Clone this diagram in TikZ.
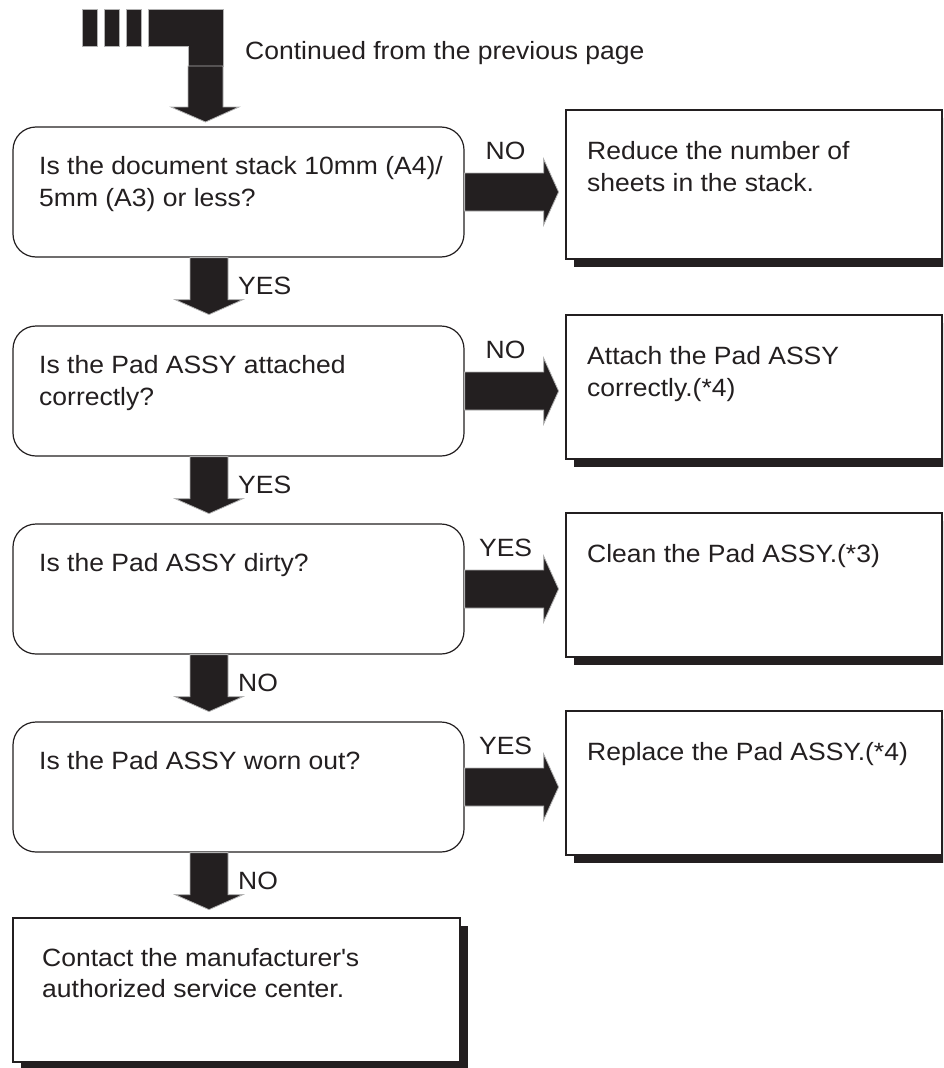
\documentclass[tikz,border=0pt]{standalone}
\usepackage{fontspec}
\setmainfont{Liberation Sans}[FakeStretch=1.06]
\usetikzlibrary{calc,shadows}
\definecolor{ink}{HTML}{231F20}
\begin{document}
\begin{tikzpicture}[x=1pt,y=-1pt,
  dec/.style={draw=ink, line width=1.2pt, rounded corners=23pt, minimum width=451pt, minimum height=130pt, inner sep=0pt, fill=white},
  res/.style={draw=ink, line width=1.2pt, inner sep=0pt, fill=white,
    drop shadow={shadow xshift=8pt, shadow yshift=-8pt, opacity=1, fill=ink}},
  txt/.style={anchor=base west, inner sep=0pt, text=ink, font=\fontsize{25}{32}\selectfont},
  lbl/.style={inner sep=0pt, text=ink, font=\fontsize{25}{28}\selectfont},
  blk/.style={fill=ink, draw=gray!60, line width=0.8pt, line join=miter}
]
\useasboundingbox (0,0) rectangle (943,1068);
\clip (0,0) rectangle (943,1068);

% decision boxes
\node[dec] (d1) at (238.5,192) {};
\node[dec] (d2) at (238.5,391) {};
\node[dec] (d3) at (238.5,589) {};
\node[dec] (d4) at (238.5,787) {};

% result boxes
\node[res, minimum width=376pt, minimum height=149pt] (r1) at (754,184.5) {};
\node[res, minimum width=376pt, minimum height=144pt] (r2) at (754,387) {};
\node[res, minimum width=376pt, minimum height=144pt] (r3) at (754,585) {};
\node[res, minimum width=376pt, minimum height=144pt] (r4) at (754,783) {};

% final box
\node[res, minimum width=447pt, minimum height=144pt] (f) at (236.5,990) {};

% texts
\node[txt] (t1) at (39,174) {\parbox[t]{420pt}{Is the document stack 10mm (A4)/\\5mm (A3) or less?}};
\node[txt] (t2) at (39,373) {\parbox[t]{420pt}{Is the Pad ASSY attached\\correctly?}};
\node[txt] (t3) at (39,571) {\parbox[t]{420pt}{Is the Pad ASSY dirty?}};
\node[txt] (t4) at (39,769) {\parbox[t]{420pt}{Is the Pad ASSY worn out?}};
\node[txt] (s1) at (587,159) {\parbox[t]{350pt}{Reduce the number of\\sheets in the stack.}};
\node[txt] (s2) at (587,364) {\parbox[t]{350pt}{Attach the Pad ASSY\\correctly.(*4)}};
\node[txt] (s3) at (587,562) {\parbox[t]{350pt}{Clean the Pad ASSY.(*3)}};
\node[txt] (s4) at (587,760) {\parbox[t]{350pt}{Replace the Pad ASSY.(*4)}};
\node[txt, font=\fontsize{25}{31}\selectfont] (ft) at (42,966) {\parbox[t]{420pt}{Contact the manufacturer\textquotesingle s\\authorized service center.}};

% continuation symbol
\coordinate (cont) at (205.5,9);
\fill[blk] ($(cont)+(-123.5,0)$) rectangle ++(15,37);
\fill[blk] ($(cont)+(-101.5,0)$) rectangle ++(15,37);
\fill[blk] ($(cont)+(-79.5,0)$) rectangle ++(15,37);
\fill[blk] ($(cont)+(-57.5,0)$) -- ++(75,0) -- ++(0,57) -- ++(-35,0) -- ++(0,-20) -- ++(-40,0) -- cycle;
\draw[blk] ($(cont)+(-17.5,57)$) -- ++(35,0) -- ++(0,41) -- ++(16,0) -- ($(cont)+(0,113)$) -- ($(cont)+(-34.5,98)$) -- ++(17,0) -- cycle;
\node[lbl, anchor=west] (ct) at (245,53) {Continued from the previous page};

% right arrows
\foreach \d/\l in {d1/NO, d2/NO, d3/YES, d4/YES}{
  \draw[blk] ($(\d.east)+(0,-19)$) -- ++(79,0) -- ++(0,-14) -- ($(\d.east)+(94,0)$) -- ($(\d.east)+(79,33)$) -- ++(0,-14) -- ($(\d.east)+(0,19)$) -- cycle;
  \node[lbl] (l\d) at ($(\d.north east)+(41,24)$) {\l};
}

% down arrows
\foreach \a/\l in {d1/YES, d2/YES, d3/NO, d4/NO}{
  \coordinate (s\a) at ($(\a.south)+(-29.5,0)$);
  \draw[blk] ($(s\a)+(-19,0)$) -- ++(0,42) -- ++(-15,0) -- ($(s\a)+(0,57)$) -- ($(s\a)+(34,42)$) -- ++(-15,0) -- ($(s\a)+(19,0)$) -- cycle;
  \node[lbl, anchor=west] (m\a) at ($(s\a)+(29,28)$) {\l};
}
\end{tikzpicture}
\end{document}
